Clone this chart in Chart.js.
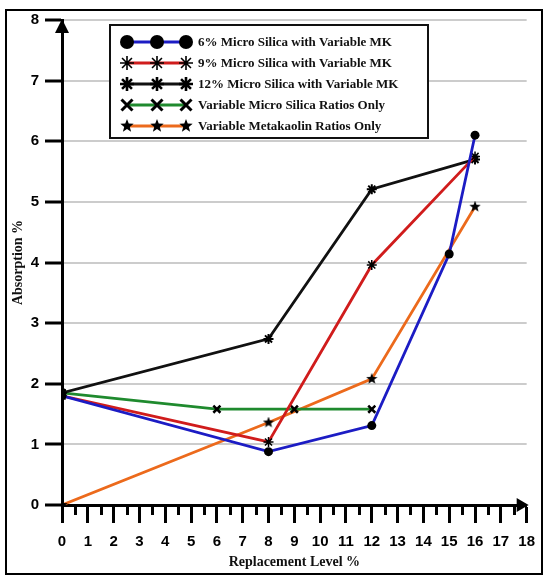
<!DOCTYPE html>
<html>
<head>
<meta charset="utf-8">
<script src="https://cdn.jsdelivr.net/npm/chart.js@4.4.0/dist/chart.umd.min.js"></script>
<style>
    html, body { margin: 0; padding: 0; background: #fff; }
    #wrap { width: 545px; height: 576px; position: relative; }
</style>
</head>
<body>
<div id="wrap"><canvas id="absorptionChart" width="545" height="576"></canvas></div>
<script>
// series (x = replacement level %, y = absorption %)
const seriesLabels = [
    '6% Micro Silica with Variable MK',
    '9% Micro Silica with Variable MK',
    '12% Micro Silica with Variable MK',
    'Variable Micro Silica Ratios Only',
    'Variable Metakaolin Ratios Only'
];
const ms6X = [0, 8, 12, 15, 16];
const ms6Y = [1.8, 0.88, 1.31, 4.14, 6.1];
const ms9X = [0, 8, 12, 16];
const ms9Y = [1.8, 1.04, 3.96, 5.75];
const ms12X = [0, 8, 12, 16];
const ms12Y = [1.85, 2.74, 5.21, 5.7];
const msOnlyX = [0, 6, 9, 12];
const msOnlyY = [1.85, 1.58, 1.58, 1.58];
const mkOnlyX = [0, 8, 12, 16];
const mkOnlyY = [0, 1.36, 2.08, 4.92];

const xTicks = { min: 0, max: 18, step: 1 };
const yTicks = { min: 0, max: 8, step: 1 };

const lineColors = ['#1c1cc4', '#d01c1c', '#111111', '#1f8a2e', '#ec6a1c'];

function toPoints(xs, ys) {
    return xs.map((x, i) => ({ x, y: ys[i] }));
}

function makeStarImage(size) {
    const c = document.createElement('canvas');
    c.width = size;
    c.height = size;
    const g = c.getContext('2d');
    const cx = size / 2, cy = size / 2, ro = size / 2, ri = ro * 0.42;
    g.beginPath();
    for (let i = 0; i < 10; i++) {
        const r = i % 2 === 0 ? ro : ri;
        const a = -Math.PI / 2 + i * Math.PI / 5;
        const px = cx + r * Math.cos(a), py = cy + r * Math.sin(a);
        if (i === 0) g.moveTo(px, py); else g.lineTo(px, py);
    }
    g.closePath();
    g.fillStyle = '#000';
    g.fill();
    return c;
}

const starSmall = makeStarImage(12);

function drawMarker(ctx, style, x, y, r) {
    ctx.save();
    ctx.fillStyle = '#000';
    ctx.strokeStyle = '#000';
    ctx.lineCap = 'butt';
    if (style === 'circle') {
        ctx.beginPath();
        ctx.arc(x, y, r, 0, Math.PI * 2);
        ctx.fill();
    } else if (style === 'asterisk' || style === 'asteriskBold') {
        ctx.lineWidth = style === 'asterisk' ? 1.6 : 2.6;
        ctx.beginPath();
        for (let k = 0; k < 4; k++) {
            const a = k * Math.PI / 4;
            ctx.moveTo(x - r * Math.cos(a), y - r * Math.sin(a));
            ctx.lineTo(x + r * Math.cos(a), y + r * Math.sin(a));
        }
        ctx.stroke();
    } else if (style === 'x') {
        ctx.lineWidth = 3;
        ctx.beginPath();
        ctx.moveTo(x - r, y - r); ctx.lineTo(x + r, y + r);
        ctx.moveTo(x + r, y - r); ctx.lineTo(x - r, y + r);
        ctx.stroke();
    } else if (style === 'star') {
        ctx.beginPath();
        for (let i = 0; i < 10; i++) {
            const rr = i % 2 === 0 ? r : r * 0.42;
            const a = -Math.PI / 2 + i * Math.PI / 5;
            const px = x + rr * Math.cos(a), py = y + rr * Math.sin(a);
            if (i === 0) ctx.moveTo(px, py); else ctx.lineTo(px, py);
        }
        ctx.closePath();
        ctx.fill();
    }
    ctx.restore();
}

const legendMarkers = ['circle', 'asterisk', 'asteriskBold', 'x', 'star'];

const boxLegend = {
    id: 'boxLegend',
    afterDatasetsDraw(chart) {
        const ctx = chart.ctx;
        const left = 110, top = 25, w = 318, h = 113;
        ctx.save();
        ctx.fillStyle = '#fff';
        ctx.fillRect(left, top, w, h);
        ctx.strokeStyle = '#111';
        ctx.lineWidth = 2;
        ctx.strokeRect(left, top, w, h);
        ctx.font = 'bold 13px "Liberation Serif", "Times New Roman", serif';
        ctx.textBaseline = 'middle';
        ctx.textAlign = 'left';
        seriesLabels.forEach((label, i) => {
            const y = 42 + i * 21;
            ctx.strokeStyle = lineColors[i];
            ctx.lineWidth = 3;
            ctx.beginPath();
            ctx.moveTo(127, y);
            ctx.lineTo(186, y);
            ctx.stroke();
            [127, 157, 186].forEach(mx => {
                const r = legendMarkers[i] === 'x' ? 5.5 : 7;
                drawMarker(ctx, legendMarkers[i], mx, y, r);
            });
            ctx.fillStyle = '#111';
            ctx.fillText(label, 198, y + 1);
        });
        ctx.restore();
    }
};

const axisExtras = {
    id: 'axisExtras',
    afterDraw(chart) {
        const ctx = chart.ctx;
        const xs = chart.scales.x;
        const { left, right, top, bottom } = chart.chartArea;
        ctx.save();
        // half-step ticks on the x axis
        ctx.strokeStyle = '#000';
        ctx.lineWidth = 3;
        ctx.beginPath();
        for (let v = xTicks.min + 0.5; v < xTicks.max; v += 1) {
            const px = Math.round(xs.getPixelForValue(v)) + 0.5;
            ctx.moveTo(px, bottom);
            ctx.lineTo(px, bottom + 10);
        }
        ctx.stroke();
        // arrow heads
        ctx.fillStyle = '#000';
        ctx.beginPath();
        ctx.moveTo(left, top - 1);
        ctx.lineTo(left - 7, top + 13);
        ctx.lineTo(left + 7, top + 13);
        ctx.closePath();
        ctx.fill();
        ctx.beginPath();
        ctx.moveTo(right + 2, bottom);
        ctx.lineTo(right - 10, bottom - 7);
        ctx.lineTo(right - 10, bottom + 7);
        ctx.closePath();
        ctx.fill();
        // frame round the figure
        ctx.lineWidth = 2;
        ctx.strokeStyle = '#000';
        ctx.strokeRect(6, 10, 536, 564);
        ctx.restore();
    }
};

const tickFont = { family: '"Liberation Sans", Arial, sans-serif', size: 15, weight: 'bold' };
const titleFont = { family: '"Liberation Serif", "Times New Roman", serif', size: 14, weight: 'bold' };

new Chart(document.getElementById('absorptionChart').getContext('2d'), {
    type: 'line',
    data: {
        datasets: [
            {
                label: seriesLabels[0],
                data: toPoints(ms6X, ms6Y),
                borderColor: lineColors[0],
                borderWidth: 2.8,
                pointStyle: 'circle',
                pointRadius: 4.5,
                pointBackgroundColor: '#000',
                pointBorderColor: '#000',
                pointBorderWidth: 0
            },
            {
                label: seriesLabels[1],
                data: toPoints(ms9X, ms9Y),
                borderColor: lineColors[1],
                borderWidth: 2.8,
                pointStyle: 'star',
                pointRadius: 5,
                pointBorderColor: '#000',
                pointBorderWidth: 1.5
            },
            {
                label: seriesLabels[2],
                data: toPoints(ms12X, ms12Y),
                borderColor: lineColors[2],
                borderWidth: 2.8,
                pointStyle: 'star',
                pointRadius: 5,
                pointBorderColor: '#000',
                pointBorderWidth: 2
            },
            {
                label: seriesLabels[3],
                data: toPoints(msOnlyX, msOnlyY),
                borderColor: lineColors[3],
                borderWidth: 2.8,
                pointStyle: 'crossRot',
                pointRadius: 5,
                pointBorderColor: '#000',
                pointBorderWidth: 2.5
            },
            {
                label: seriesLabels[4],
                data: toPoints(mkOnlyX, mkOnlyY),
                borderColor: lineColors[4],
                borderWidth: 2.8,
                pointStyle: starSmall,
                pointRadius: 6
            }
        ]
    },
    options: {
        responsive: false,
        animation: false,
        devicePixelRatio: 1,
        layout: { padding: { top: 20, right: 17, left: 0, bottom: 0 } },
        elements: { line: { tension: 0 } },
        plugins: {
            legend: { display: false },
            tooltip: { enabled: false }
        },
        scales: {
            x: {
                type: 'linear',
                min: xTicks.min,
                max: xTicks.max,
                ticks: { stepSize: xTicks.step, color: '#000', font: tickFont, padding: 10, maxRotation: 0 },
                grid: { drawOnChartArea: false, drawTicks: true, tickLength: 18, tickWidth: 3, tickColor: '#000' },
                border: { color: '#000', width: 3 },
                title: { display: true, text: 'Replacement Level %', color: '#111', font: titleFont, padding: { top: 0, bottom: 5 } },
                afterFit(scale) { scale.height = 71; }
            },
            y: {
                min: yTicks.min,
                max: yTicks.max,
                ticks: { stepSize: yTicks.step, color: '#000', font: tickFont, padding: 6 },
                grid: { color: '#cccccc', lineWidth: 2, drawTicks: true, tickLength: 17, tickWidth: 3, tickColor: '#000' },
                border: { color: '#000', width: 3 },
                title: { display: true, text: 'Absorption %', color: '#111', font: titleFont, padding: { top: 10, bottom: 0 } },
                afterFit(scale) { scale.width = 62; }
            }
        }
    },
    plugins: [boxLegend, axisExtras]
});
</script>
</body>
</html>
